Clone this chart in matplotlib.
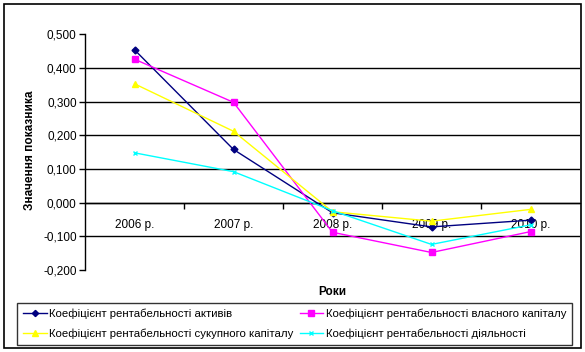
import matplotlib
matplotlib.use("Agg")
import matplotlib.pyplot as plt
from matplotlib.patches import Rectangle

plt.rcParams['font.family'] = ['Liberation Sans', 'DejaVu Sans']

years = ["2006 р.", "2007 р.", "2008 р.", "2009 р.", "2010 р."]
assets = [0.454, 0.158, -0.030, -0.072, -0.052]
equity = [0.426, 0.298, -0.088, -0.148, -0.086]
total_capital = [0.353, 0.212, -0.027, -0.055, -0.020]
activity = [0.148, 0.092, -0.024, -0.124, -0.066]
yticks = [-0.2, -0.1, 0.0, 0.1, 0.2, 0.3, 0.4, 0.5]
names = ["Коефіцієнт рентабельності активів",
         "Коефіцієнт рентабельності власного капіталу",
         "Коефіцієнт рентабельності сукупного капіталу",
         "Коефіцієнт рентабельності діяльності"]

W, H = 585, 352
fig = plt.figure(figsize=(W/100, H/100), dpi=100)
ax = fig.add_axes([85/W, 1-270/H, (580-85)/W, (270-34.3)/H])

x = list(range(len(years)))
styles = [
    (assets, "#000080", "D", 3.5),
    (equity, "#FF00FF", "s", 5),
    (total_capital, "#FFFF00", "^", 5),
    (activity, "#00FFFF", "x", 3.5),
]
handles = []
for (vals, c, m, ms), nm in zip(styles, names):
    h, = ax.plot(x, vals, color=c, marker=m, markersize=ms, lw=1.0,
                 markeredgewidth=1.0, label=nm, zorder=3)
    handles.append(h)

ax.set_xlim(-0.5, len(years)-0.5)
ax.set_ylim(-0.2, 0.5)
for v in yticks[1:-1]:
    ax.axhline(v, color="black", lw=1.0, zorder=1)

ax.set_yticks(yticks)
ax.set_yticklabels([f"{v:.3f}".replace(".", ",") for v in yticks], fontsize=8.5)
ax.tick_params(axis='y', direction='out', length=4, width=1, pad=2)

ax.spines['top'].set_visible(False)
ax.spines['right'].set_visible(False)
ax.spines['bottom'].set_position(('data', 0))
ax.spines['left'].set_linewidth(1)
ax.spines['bottom'].set_linewidth(1)
ax.set_xticks(x)
ax.set_xticklabels(years, fontsize=8.5)
ax.tick_params(axis='x', length=0, pad=12)
ax.set_xticks([i + 0.5 for i in x[:-1]], minor=True)
ax.tick_params(axis='x', which='minor', direction='out', length=4, width=1)

fig.text(30/W, 1-150/H, "Значення показника", rotation=90, fontsize=8.5,
         fontweight='bold', ha='center', va='center')
fig.text(332/W, 1-292/H, "Роки", fontsize=8.5, fontweight='bold',
         ha='center', va='center')

order = [0, 2, 1, 3]
leg = fig.legend(handles=[handles[i] for i in order], loc='upper left',
                 bbox_to_anchor=(17/W, 1-303/H),
                 ncol=2, fontsize=8.2, frameon=True, fancybox=False,
                 edgecolor='black', handlelength=2.1, handletextpad=0.25,
                 columnspacing=0.5, borderpad=0.5, labelspacing=0.85,
                 borderaxespad=0, markerscale=0.9)
leg.get_frame().set_linewidth(1)

fig.patches.append(Rectangle((4/W, 1-348/H), (581-4)/W, (348-4)/H,
                             transform=fig.transFigure, fill=False,
                             edgecolor='black', lw=1.2))

fig.savefig("out.png", dpi=100)
